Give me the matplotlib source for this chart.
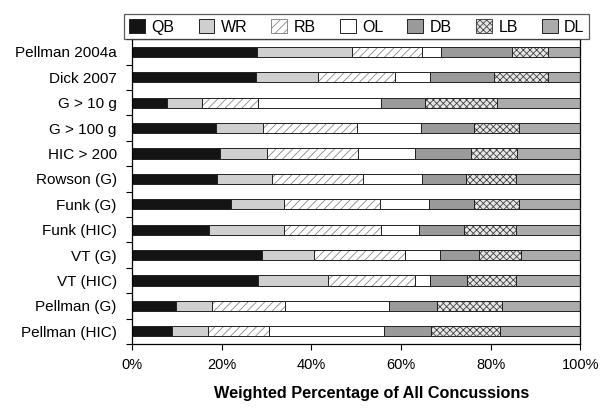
"""Stacked bars: weighted percentage of concussions by position."""

import numpy as np
from matplotlib import pyplot as plt

plt.rcParams['font.family'] = ['Liberation Sans', 'DejaVu Sans']
plt.rcParams['hatch.linewidth'] = 0.6

studies: list = ['Pellman 2004a', 'Dick 2007', 'G > 10 g', 'G > 100 g', 'HIC > 200',
                 'Rowson (G)', 'Funk (G)', 'Funk (HIC)', 'VT (G)', 'VT (HIC)',
                 'Pellman (G)', 'Pellman (HIC)']
positions: list = ['QB', 'WR', 'RB', 'OL', 'DB', 'LB', 'DL']

# percentages per position, one value per study
qb: list = [27.8, 27.7, 7.9, 18.7, 19.6, 18.9, 22.0, 17.2, 28.9, 28.2, 9.8, 9.0]
wr: list = [21.2, 13.7, 7.7, 10.5, 10.6, 12.3, 12.0, 16.8, 11.6, 15.4, 8.1, 8.0]
rb: list = [15.7, 17.3, 12.4, 21.0, 20.2, 20.4, 21.2, 21.5, 20.4, 19.6, 16.3, 13.6]
ol: list = [4.1, 7.7, 27.5, 14.2, 12.8, 13.1, 11.1, 8.4, 7.7, 3.2, 23.2, 25.6]
db: list = [16.0, 14.4, 9.9, 11.8, 12.4, 9.8, 9.9, 10.1, 8.7, 8.3, 10.7, 10.5]
lb: list = [7.9, 11.9, 16.0, 10.0, 10.3, 11.1, 10.2, 11.6, 9.5, 10.9, 14.4, 15.3]
dl: list = [7.3, 7.3, 18.6, 13.8, 14.1, 14.4, 13.6, 14.4, 13.2, 14.4, 17.5, 18.0]

colors = ['#141414', '#cfcfcf', 'white', 'white', '#9a9a9a', '#e6e6e6', '#ababab']
hatches = [None, None, '////', None, None, 'xxxxx', None]
hatch_colors = ['k', 'k', '#888888', 'k', 'k', '#444444', 'k']

fig = plt.figure(figsize=(6.11, 4.09), dpi=100)
ax = fig.add_axes([0.216, 0.159, 0.734, 0.745])

y = np.arange(len(studies))
left = np.zeros(len(studies))
for name, vals, c, h, hc in zip(positions, [qb, wr, rb, ol, db, lb, dl],
                                colors, hatches, hatch_colors):
    vals = np.array(vals)
    vals = vals / 100.0
    ax.barh(y, vals, left=left, height=0.4, color=c, hatch=h,
            edgecolor='#222222', linewidth=0.7, label=name)
    if h is not None:
        # redraw hatch in its own colour, keep dark outline
        for p in ax.patches[-len(studies):]:
            p.set_edgecolor(hc)
        ax.barh(y, vals, left=left, height=0.4, color='none',
                edgecolor='#222222', linewidth=0.7)
    left = left + vals

ax.set_xlim(0, 1)
ax.set_ylim(len(studies) - 0.5, -0.5)
ax.set_xticks(np.linspace(0, 1, 6))
ax.set_xticklabels(['0%', '20%', '40%', '60%', '80%', '100%'], fontsize=10.5)
ax.set_yticks(y)
ax.set_yticklabels(studies, fontsize=11)
ax.set_yticks(np.arange(len(studies) + 1) - 0.5, minor=True)
ax.tick_params(axis='y', which='major', length=0, pad=11)
ax.tick_params(axis='y', which='minor', length=4, width=0.8)
ax.tick_params(axis='x', length=4, width=0.8, pad=6)
for s in ax.spines.values():
    s.set_linewidth(0.9)
ax.set_xlabel('Weighted Percentage of All Concussions', fontsize=11.7,
              fontweight='bold', labelpad=10, x=0.535)

handles, labels = ax.get_legend_handles_labels()
leg = fig.legend(handles[:7], labels[:7], loc='upper center', ncol=7,
                 bbox_to_anchor=(0.584, 0.985), fontsize=11.5, frameon=True,
                 fancybox=False, edgecolor='#333333', handlelength=1.0,
                 handleheight=1.0, handletextpad=0.4, columnspacing=1.5,
                 borderpad=0.3)
leg.get_frame().set_linewidth(0.9)

plt.savefig('out.png', dpi=100)
